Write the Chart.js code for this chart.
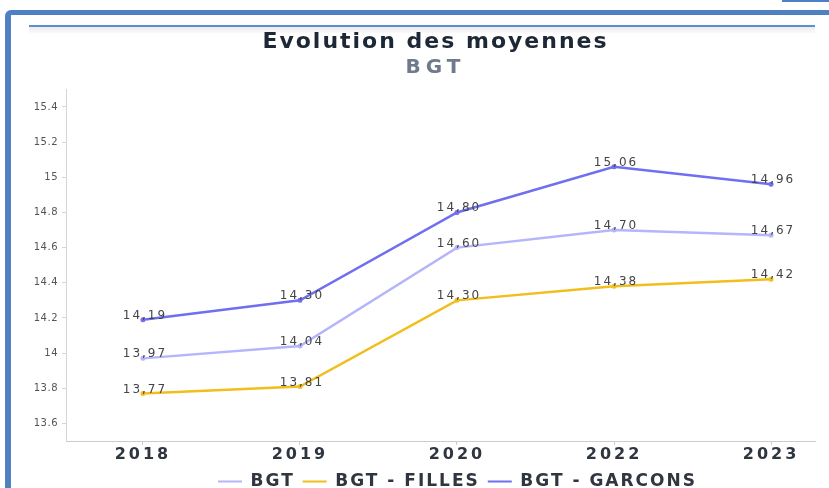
<!DOCTYPE html>
<html>
<head>
<meta charset="utf-8">
<script src="https://cdn.jsdelivr.net/npm/chart.js@4"></script>
<style>
  body { margin: 0; background: #fff; width: 829px; height: 488px; overflow: hidden; position: relative; }
  .frame { position: absolute; left: 5px; top: 10px; width: 900px; height: 600px;
           border-left: 6px solid #4f81c2; border-top: 5px solid #4f81c2; border-top-left-radius: 6px; }
  .corner { position: absolute; left: 782px; top: 0; width: 47px; height: 2px; background: #4f81c2; }
  .rule { position: absolute; left: 29px; top: 25px; width: 786px; height: 2px; background: #5b8fd0; }
  .rule-shadow { position: absolute; left: 29px; top: 27px; width: 786px; height: 6px;
                 background: linear-gradient(#ececec, #fafafa); }
  canvas { position: absolute; left: 0; top: 0; }
</style>
</head>
<body>
<div class="frame"></div>
<div class="corner"></div>
<div class="rule"></div>
<div class="rule-shadow"></div>
<canvas id="chart" width="829" height="488"></canvas>
<script>
// data
const years = ['2018', '2019', '2020', '2022', '2023'];
const bgt = [13.97, 14.04, 14.60, 14.70, 14.67];
const bgtFilles = [13.77, 13.81, 14.30, 14.38, 14.42];
const bgtGarcons = [14.19, 14.30, 14.80, 15.06, 14.96];
const yTicks = [13.6, 13.8, 14, 14.2, 14.4, 14.6, 14.8, 15, 15.2, 15.4];

// the source picture is stretched sideways, so widen text by font size
const spacingBySize = { '22px': '2px', '20px': '5px', '17px': '2px', '16px': '3px', '12px': '2px', '10px': '0.5px' };

const textSpacing = {
  id: 'textSpacing',
  beforeInit(chart) {
    const fontProp = Object.getOwnPropertyDescriptor(CanvasRenderingContext2D.prototype, 'font');
    Object.defineProperty(chart.ctx, 'font', {
      get() { return fontProp.get.call(this); },
      set(v) {
        fontProp.set.call(this, v);
        const size = (v.match(/\d+px/) || [])[0];
        this.letterSpacing = spacingBySize[size] || '0px';
      }
    });
  },
  afterLayout(chart) {
    // title and legend are centred further right than the plot in the original
    chart.boxes.forEach(b => {
      if (b.position === 'top') { b.left += 15; b.right += 15; }
    });
    chart.legend.left += 37;
    chart.legend.right += 37;
  }
};

// value labels above each point, French decimal comma
const pointLabels = {
  id: 'pointLabels',
  afterDatasetsDraw(chart) {
    const ctx = chart.ctx;
    ctx.save();
    ctx.font = '12px "DejaVu Sans"';
    ctx.fillStyle = '#444';
    ctx.textAlign = 'center';
    ctx.textBaseline = 'alphabetic';
    chart.data.datasets.forEach((ds, i) => {
      chart.getDatasetMeta(i).data.forEach((pt, j) => {
        ctx.fillText(ds.data[j].y.toFixed(2).replace('.', ','), pt.x + 2, pt.y - 1);
      });
    });
    ctx.restore();
  }
};

function series(values) {
  return values.map((v, i) => ({ x: i, y: v }));
}

function line(label, values, color) {
  return {
    label: label,
    data: series(values),
    borderColor: color,
    backgroundColor: color,
    pointBackgroundColor: color,
    pointBorderColor: color,
    borderWidth: 2.5,
    pointRadius: 1.5,
    pointBorderWidth: 2,
    tension: 0
  };
}

new Chart(document.getElementById('chart'), {
  type: 'line',
  data: {
    datasets: [
      line('BGT', bgt, '#b5b5fb'),
      line('BGT - FILLES', bgtFilles, '#f1be1d'),
      line('BGT - GARCONS', bgtGarcons, '#6f6ff0')
    ]
  },
  options: {
    responsive: false,
    animation: false,
    devicePixelRatio: 1,
    layout: { padding: { left: 26, right: 14, top: 0, bottom: -12 } },
    plugins: {
      title: {
        display: true,
        text: 'Evolution des moyennes',
        color: '#1d2735',
        font: { family: 'DejaVu Sans', size: 22, weight: 'bold' },
        padding: { top: 29, bottom: 0 }
      },
      subtitle: {
        display: true,
        text: 'BGT',
        color: '#6f7a8a',
        font: { family: 'DejaVu Sans', size: 20, weight: 'bold' },
        padding: { top: 0, bottom: 10 }
      },
      legend: {
        position: 'bottom',
        labels: {
          usePointStyle: true,
          pointStyle: 'line',
          pointStyleWidth: 24,
          padding: 8,
          color: '#2f3640',
          font: { family: 'DejaVu Sans', size: 17, weight: 'bold' }
        }
      },
      tooltip: { enabled: false }
    },
    scales: {
      x: {
        type: 'linear',
        min: -0.49,
        max: 4.28,
        afterBuildTicks: axis => { axis.ticks = years.map((y, i) => ({ value: i })); },
        ticks: {
          callback: v => years[v],
          color: '#2f3640',
          padding: 2,
          font: { family: 'DejaVu Sans', size: 16, weight: 'bold', lineHeight: 1 }
        },
        grid: { drawOnChartArea: false, tickLength: 4, color: '#cccccc' },
        border: { color: '#cccccc' }
      },
      y: {
        min: 13.5,
        max: 15.5,
        afterBuildTicks: axis => { axis.ticks = yTicks.map(v => ({ value: v })); },
        afterFit: axis => { axis.width = 40; },
        ticks: {
          callback: v => String(v),
          color: '#555',
          padding: 4,
          font: { family: 'DejaVu Sans', size: 10 }
        },
        grid: { drawOnChartArea: false, tickLength: 4, color: '#d5d5d5' },
        border: { color: '#d5d5d5' }
      }
    }
  },
  plugins: [textSpacing, pointLabels]
});
</script>
</body>
</html>
